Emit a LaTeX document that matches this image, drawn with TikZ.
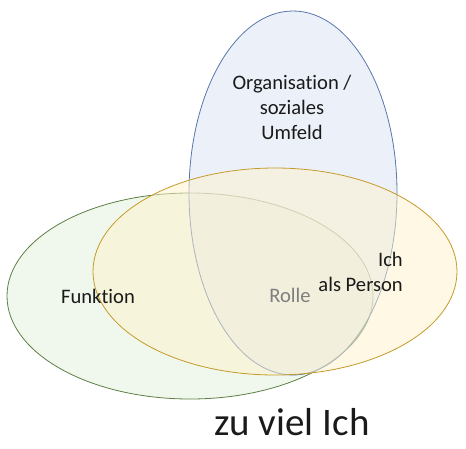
\documentclass[tikz,border=0pt]{standalone}
\usepackage{fontspec}
\setmainfont{Carlito}[Ligatures=NoCommon]
\usetikzlibrary{shapes.geometric}
\definecolor{orgline}{HTML}{5A76AC}
\definecolor{orgfill}{HTML}{DAE3F3}
\definecolor{funline}{HTML}{5E7F45}
\definecolor{funfill}{HTML}{E2F0D9}
\definecolor{ichline}{HTML}{C49A2A}
\definecolor{ichfill}{HTML}{FFF2CC}
\definecolor{muted}{HTML}{7F7F7F}
\definecolor{ink}{HTML}{1A1A1A}

\begin{document}
\begin{tikzpicture}[x=1pt,y=-1pt,
  blob/.style={ellipse,line width=0.8pt,fill opacity=0.5,inner sep=0pt},
  org/.style={blob,draw=orgline,fill=orgfill,minimum width=208pt,minimum height=364pt},
  fun/.style={blob,draw=funline,fill=funfill,minimum width=366pt,minimum height=206pt},
  ich/.style={blob,draw=ichline,fill=ichfill,minimum width=364pt,minimum height=207pt},
  lbl/.style={font=\fontsize{20.6}{25}\selectfont,text=ink,inner sep=0pt}]
\useasboundingbox (0,0) rectangle (466,448);
\node[fun] (funk) at (190,296) {};
\node[org] (orga) at (293,193) {};
\node[ich] (self) at (275,271.5) {};
% base = baseline of the last line
\node[lbl,align=center,anchor=base] (orgtext) at (292,139.3) {Organisation /\\soziales\\Umfeld};
\node[lbl,anchor=base] (funtext) at (98,303) {Funktion};
\node[lbl,text=muted,anchor=base] (rolle) at (290,302.7) {Rolle};
\node[lbl,align=right,anchor=base east] (ichtext) at (403,291.7) {Ich\\als Person};
\node[font=\fontsize{39}{47}\selectfont,text=ink,inner sep=0pt,anchor=base] (title) at (292,435) {zu viel Ich};
\end{tikzpicture}
\end{document}
